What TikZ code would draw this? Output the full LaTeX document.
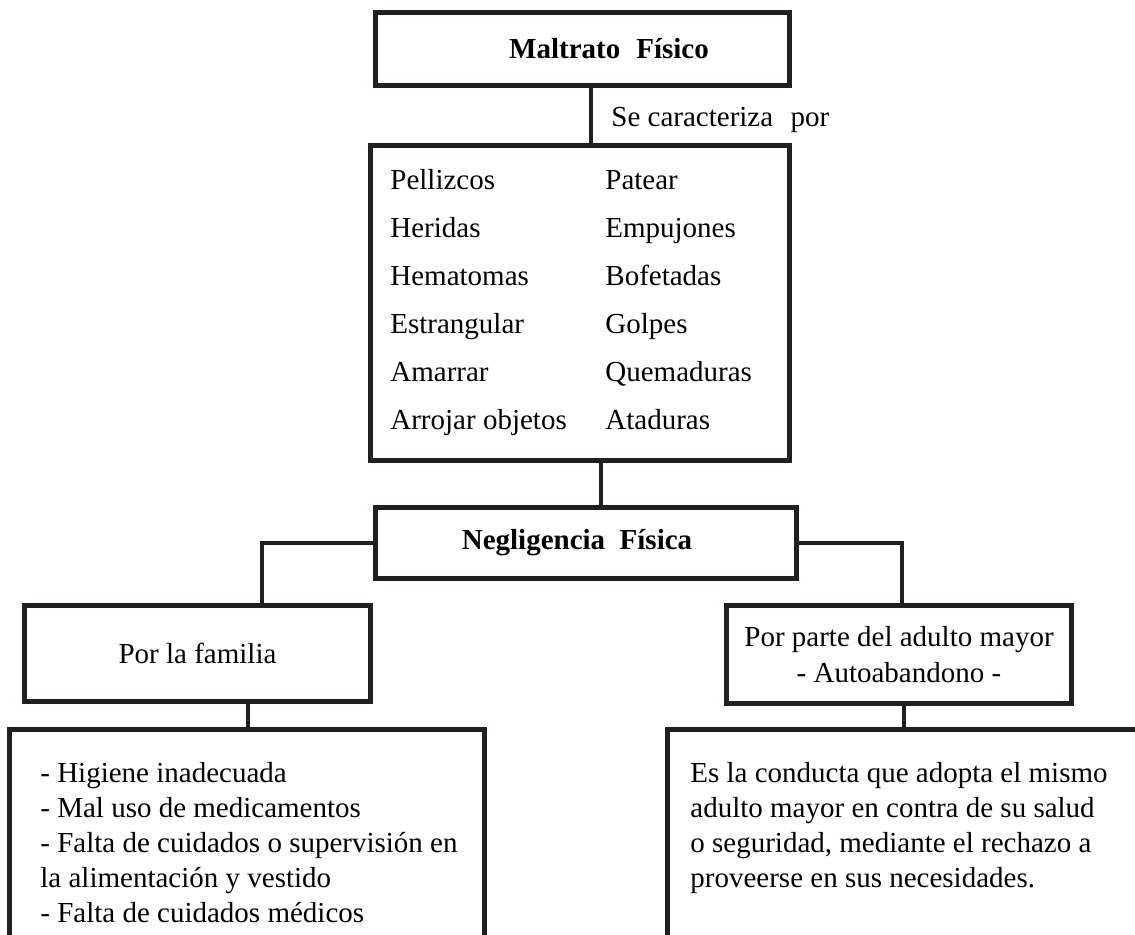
\documentclass[tikz,border=0pt]{standalone}
\usepackage{fontspec}
\setmainfont{Liberation Serif}
\usepackage{tikz}
\definecolor{linegray}{RGB}{35,31,32}

\begin{document}
\begin{tikzpicture}[
        x=0.5pt, y=-0.5pt,
        boxnode/.style={draw=linegray, line width=2.5pt, inner sep=0pt, align=center,
            font=\fontsize{14.5pt}{18pt}\selectfont},
        link/.style={draw=linegray, line width=2.4pt},
        listtext/.style={inner sep=0pt, anchor=base west,
            font=\fontsize{14.5pt}{24pt}\selectfont},
        paratext/.style={inner sep=0pt, anchor=base west,
            font=\fontsize{14.5pt}{17.5pt}\selectfont}
    ]
    \useasboundingbox (0,0) rectangle (1135,934);
    % boxes
    \node[boxnode, minimum width=207pt, minimum height=36.5pt] (mft) at (582.5,49)
        {\hspace*{26.5pt}\textbf{Maltrato\hspace{0.55em}Físico}};
    \node[boxnode, minimum width=209.5pt, minimum height=157.5pt] (lst) at (580,303) {};
    \node[boxnode, minimum width=210.5pt, minimum height=35.5pt] (neg) at (586,543)
        {\textbf{Negligencia\hspace{0.5em}Física}\hspace*{9pt}};
    \node[boxnode, minimum width=173pt, minimum height=48pt] (fam) at (197.5,653.5) {Por la familia};
    \node[boxnode, minimum width=172.5pt, minimum height=49pt] (adm) at (899,654.5)
        {Por parte del adulto mayor\\- Autoabandono -};
    \node[boxnode, minimum width=237.5pt, minimum height=115.25pt] (fbx) at (247,844.75) {};
    \node[boxnode, minimum width=235.5pt, minimum height=115.25pt] (abx) at (903,844.75) {};
    % texts
    \node[inner sep=0pt, anchor=base west, font=\fontsize{14.5pt}{18pt}\selectfont] (car) at (611,126)
        {Se caracteriza\hspace{0.6em}por};
    \node[listtext] (items) at (390,189) {\begin{tabular}[t]{@{}p{107.5pt}@{}l@{}}
        Pellizcos & Patear\\
        Heridas & Empujones\\
        Hematomas & Bofetadas\\
        Estrangular & Golpes\\
        Amarrar & Quemaduras\\
        Arrojar objetos & Ataduras
        \end{tabular}};
    \node[paratext] (ftx) at (40,782) {\begin{tabular}[t]{@{}l@{}}
        - Higiene inadecuada\\
        - Mal uso de medicamentos\\
        - Falta de cuidados o supervisión en\\
        la alimentación y vestido\\
        - Falta de cuidados médicos
        \end{tabular}};
    \node[paratext] (atx) at (690,782) {\begin{tabular}[t]{@{}l@{}}
        Es la conducta que adopta el mismo\\
        adulto mayor en contra de su salud\\
        o seguridad, mediante el rechazo a\\
        proveerse en sus necesidades.
        \end{tabular}};
    % connectors
    \draw[link] ([xshift=4.25pt]mft.south) -- ([xshift=4.25pt]mft.south |- lst.north);
    \draw[link] ([xshift=10.5pt]lst.south) -- ([xshift=10.5pt]lst.south |- neg.north);
    \draw[link] (neg.west) -| ([xshift=32.25pt]fam.north);
    \draw[link] (neg.east) -| ([xshift=1.5pt]adm.north);
    \draw[link] ([xshift=25.25pt]fam.south) -- ([xshift=25.25pt]fam.south |- fbx.north);
    \draw[link] ([xshift=2.5pt]adm.south) -- ([xshift=2.5pt]adm.south |- abx.north);
\end{tikzpicture}
\end{document}
